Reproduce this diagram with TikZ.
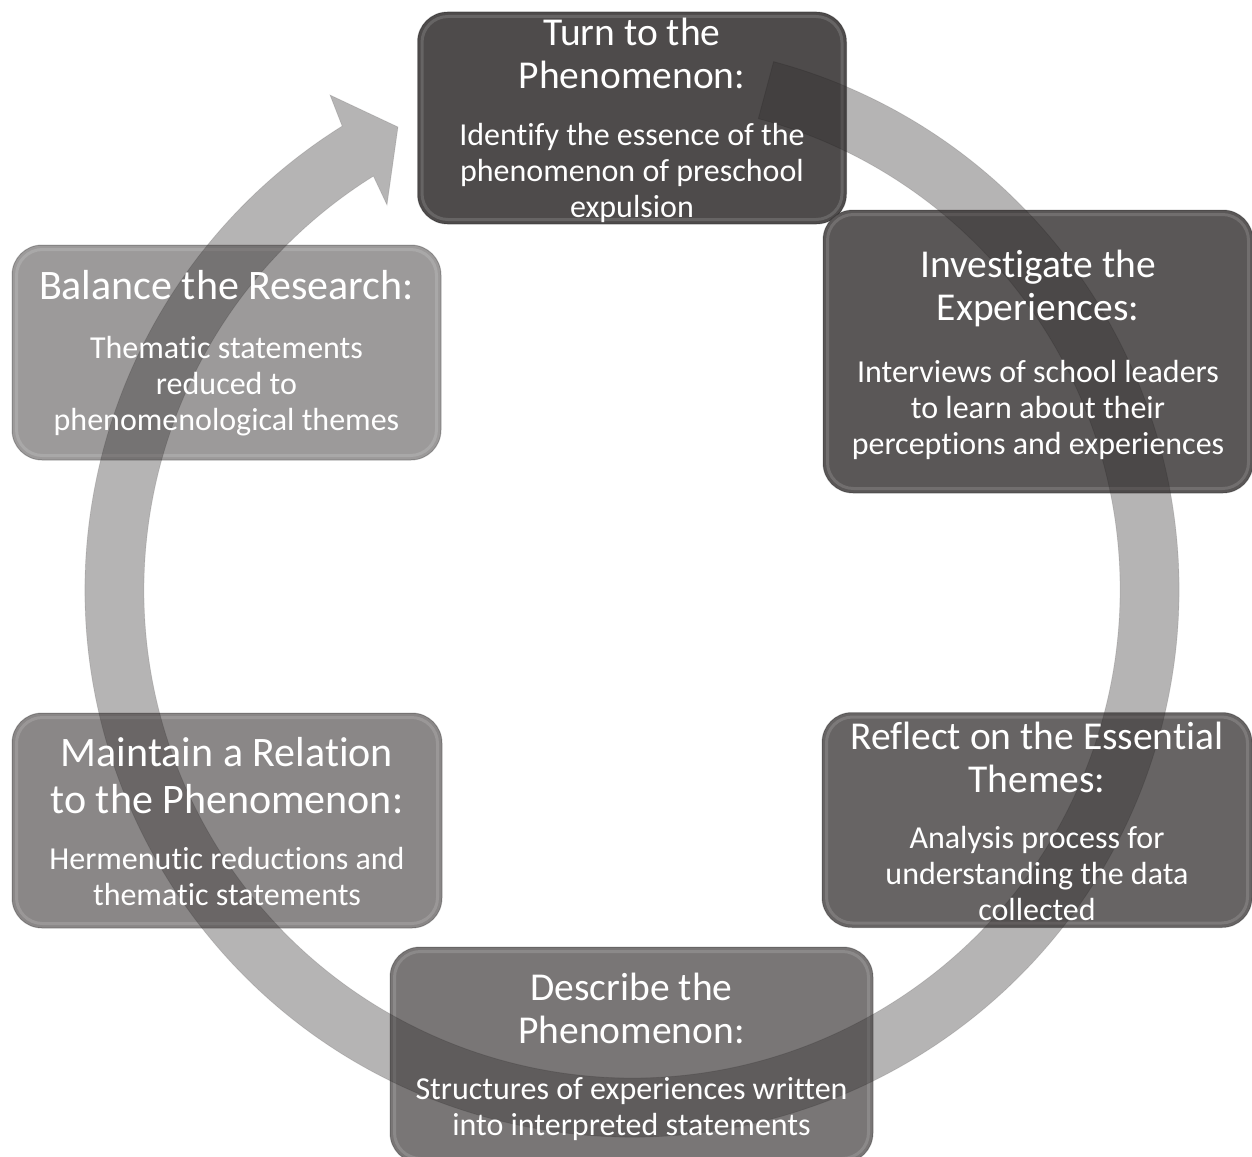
\documentclass[tikz,border=0pt]{standalone}
\usepackage{fontspec}
\setmainfont{Carlito}[Ligatures={NoCommon,NoRequired,NoContextual}]
\usetikzlibrary{calc}
\pgfdeclarelayer{boxes}
\pgfdeclarelayer{arrowlayer}
\pgfsetlayers{boxes,arrowlayer,main}
\definecolor{cTurn}{RGB}{78,75,75}
\definecolor{cInv}{RGB}{90,87,87}
\definecolor{cRef}{RGB}{103,100,100}
\definecolor{cDes}{RGB}{121,118,118}
\definecolor{cMai}{RGB}{138,135,135}
\definecolor{cBal}{RGB}{156,154,154}
\definecolor{arrowgray}{RGB}{50,46,46}
\tikzset{
  stepbox/.style={rounded corners=30pt, inner sep=0pt, draw=black, draw opacity=0.22, line width=1pt},
  bevel/.style={rounded corners=26pt, draw=white, draw opacity=0.14, line width=3pt},
  txt/.style={text=white, inner sep=0pt},
  cyclearrow/.style={fill=arrowgray, fill opacity=0.36, draw=black, draw opacity=0.1, line width=0.8pt},
}
\newcommand\cyctext[5]{%
  \begin{minipage}{440pt}\centering
  {\fontsize{#1}{#2}\selectfont #4\par}
  \vspace{#3}
  {\fontsize{32}{36}\selectfont #5\par}
  \end{minipage}}
\begin{document}
\begin{tikzpicture}[x=1pt,y=1pt]
\useasboundingbox (0,0) rectangle (1252,-1156);
% boxes
\begin{pgfonlayer}{boxes}
\node[stepbox, fill=cTurn, minimum width=429, minimum height=212] (turn) at (632,-118) {};
\node[stepbox, fill=cInv, minimum width=430, minimum height=283] (inv) at (1038,-351.5) {};
\node[stepbox, fill=cRef, minimum width=430, minimum height=215] (ref) at (1037,-820) {};
\node[stepbox, fill=cDes, minimum width=483, minimum height=216] (des) at (631.5,-1055) {};
\node[stepbox, fill=cMai, minimum width=430, minimum height=215] (mai) at (227,-820.5) {};
\node[stepbox, fill=cBal, minimum width=429, minimum height=215] (bal) at (226.5,-352.5) {};
\foreach \b in {turn,inv,ref,des,mai,bal}{
  \draw[bevel] ($(\b.south west)+(5,5)$) rectangle ($(\b.north east)+(-5,-5)$);
}
\end{pgfonlayer}
% cycle arrow
\begin{pgfonlayer}{arrowlayer}
\coordinate (C) at (632,-590);
\coordinate (barbout) at (330,-95);
\coordinate (tip) at (398,-127);
\coordinate (barbin) at (387,-205);
\path[cyclearrow] ($(C)+(75:547)$) arc[start angle=75, end angle=-238, radius=547]
  -- (barbout) -- (tip) -- (barbin)
  -- ($(C)+(-238:488)$) arc[start angle=-238, end angle=75, radius=488] -- cycle;
\end{pgfonlayer}
% texts
\node[txt] (tturn) at ($(turn)+(0,-2)$) {\cyctext{39.5}{43}{21pt}{Turn to the\\Phenomenon:}{Identify the essence of the\\phenomenon of preschool\\expulsion}};
\node[txt] (tinv) at ($(inv)+(0,-3)$) {\cyctext{39.5}{43}{26pt}{Investigate the\\Experiences:}{Interviews of school leaders\\to learn about their\\perceptions and experiences}};
\node[txt] (tref) at ($(ref)+(0,-1)$) {\cyctext{39.5}{43}{20pt}{Reflect on the Essential\\Themes:}{Analysis process for\\understanding the data\\collected}};
\node[txt] (tdes) at ($(des)+(0,-2)$) {\cyctext{39.5}{43}{20pt}{Describe the\\Phenomenon:}{Structures of experiences written\\into interpreted statements}};
\node[txt] (tmai) at ($(mai)+(0,-1)$) {\cyctext{42}{47}{20pt}{Maintain a Relation\\to the Phenomenon:}{Hermenutic reductions and\\thematic statements}};
\node[txt] (tbal) at ($(bal)+(0,-1)$) {\cyctext{42}{47}{23pt}{Balance the Research:}{Thematic statements\\reduced to\\phenomenological themes}};
\end{tikzpicture}
\end{document}
